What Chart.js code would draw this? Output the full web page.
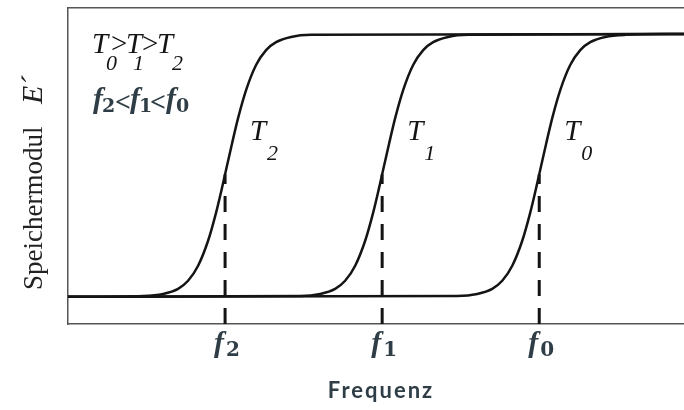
<!DOCTYPE html>
<html>
<head>
<meta charset="utf-8">
<style>
  html, body { margin: 0; padding: 0; background: #fff; }
  #wrap { width: 684px; height: 410px; }
</style>
<script src="https://cdn.jsdelivr.net/npm/chart.js@4.4.1/dist/chart.umd.min.js"></script>
</head>
<body>
<div id="wrap"><canvas id="chart" width="684" height="410"></canvas></div>
<script>
/* ---------- data (arbitrary units: frequency 0..100, E' 0..9) ---------- */
const freqLabels = ["2", "1", "0"];          // f2, f1, f0
const freqValues = [25.5, 51, 76.5];          // crossover frequencies
const tempLabels = ["2", "1", "0"];          // curve names T2, T1, T0
const crossY = 4.2;                           // E' where the dashed marker meets each curve

// shared E' samples for every step (glassy plateau at 9, rubbery at 0)
const stepY = [0, 0.03, 0.10, 0.275, 0.55, 1.065, 1.92, 2.885, 3.74, 4.2,
               5.26, 6.12, 7.08, 7.94, 8.45, 8.72, 8.9, 8.97, 9.0];

const curveT2X = [0, 12.19, 15.44, 17.87, 19.49, 21.12, 22.74, 24.04, 25.01, 25.5,
                  26.64, 27.61, 28.91, 30.53, 32.16, 33.78, 36.21, 39.46, 100];
const curveT1X = [0, 37.69, 40.94, 43.37, 44.99, 46.62, 48.24, 49.54, 50.51, 51,
                  52.14, 53.11, 54.41, 56.03, 57.66, 59.28, 61.71, 64.96, 100];
const curveT0X = [0, 63.19, 66.44, 68.87, 70.49, 72.12, 73.74, 75.04, 76.01, 76.5,
                  77.64, 78.61, 79.91, 81.53, 83.16, 84.78, 87.21, 90.46, 100];

const INK = "#141414";
const SLATE = "#2f3e46";

/* ---------- helpers ---------- */
function curveDataset(xs) {
  return {
    data: xs.map((x, i) => ({ x, y: stepY[i] })),
    showLine: true,
    borderColor: INK,
    borderWidth: 2.5,
    pointRadius: 0,
    cubicInterpolationMode: "monotone",
    fill: false
  };
}

function dashDataset(f) {
  return {
    data: [{ x: f, y: -0.93 }, { x: f, y: crossY }],
    showLine: true,
    borderColor: INK,
    borderWidth: 3,
    borderDash: [16, 12],
    borderCapStyle: "butt",
    pointRadius: 0
  };
}

function txt(ctx, s, x, y, font) {
  ctx.font = font;
  ctx.fillText(s, x, y);
}

/* ---------- text drawn on top of the chart ---------- */
const textPlugin = {
  id: "labels",
  afterDraw(chart) {
    const ctx = chart.ctx;
    const xs = chart.scales.x;
    const area = chart.chartArea;
    ctx.save();
    ctx.textBaseline = "alphabetic";
    ctx.textAlign = "left";

    const tFont = 'italic 29px "Liberation Serif"';
    const tSub = 'italic 22px "Liberation Serif"';
    const gt = '29px "Liberation Serif"';
    const fFont = 'bold italic 30px "Liberation Serif"';
    const fSub = 'bold 19px "DejaVu Serif"';
    const lt = 'bold 28px "Liberation Serif"';

    // T0 > T1 > T2
    ctx.fillStyle = INK;
    txt(ctx, "T", 92, 53, tFont);
    txt(ctx, "0", 106, 70, tSub);
    txt(ctx, ">", 111, 53, gt);
    txt(ctx, "T", 126, 53, tFont);
    txt(ctx, "1", 133, 70, tSub);
    txt(ctx, ">", 142, 53, gt);
    txt(ctx, "T", 157, 53, tFont);
    txt(ctx, "2", 172, 70, tSub);

    // f2 < f1 < f0
    ctx.fillStyle = SLATE;
    txt(ctx, "f", 93, 108, fFont);
    txt(ctx, "2", 102, 112, fSub);
    txt(ctx, "<", 115, 111, lt);
    txt(ctx, "f", 130, 108, fFont);
    txt(ctx, "1", 139, 112, fSub);
    txt(ctx, "<", 150, 111, lt);
    txt(ctx, "f", 166, 108, fFont);
    txt(ctx, "0", 176, 112, fSub);

    // curve names beside each step
    ctx.fillStyle = INK;
    freqValues.forEach((f, i) => {
      const px = xs.getPixelForValue(f);
      txt(ctx, "T", px + 25, 140, tFont);
      txt(ctx, tempLabels[i], px + 42, 160, tSub);
    });

    // frequency tick labels
    ctx.fillStyle = SLATE;
    freqValues.forEach((f, i) => {
      const px = xs.getPixelForValue(f);
      txt(ctx, "f", px - 11, 352, fFont);
      txt(ctx, freqLabels[i], px + 1, 356, 'bold 20px "DejaVu Serif"');
    });

    // x axis title
    ctx.font = 'bold 22px "Lato"';
    ctx.letterSpacing = "2px";
    ctx.textAlign = "center";
    ctx.fillText("Frequenz", (area.left + area.right) / 2 + 5, 398);
    ctx.letterSpacing = "0px";

    // y axis title, rotated
    ctx.fillStyle = "#222";
    ctx.translate(42, 290);
    ctx.rotate(-Math.PI / 2);
    ctx.textAlign = "left";
    txt(ctx, "Speichermodul", 0, 0, '27px "Liberation Serif"');
    txt(ctx, "E´", 186, 0, 'italic 30px "Liberation Serif"');
    ctx.restore();
  }
};

/* ---------- chart ---------- */
new Chart(document.getElementById("chart"), {
  type: "scatter",
  data: {
    datasets: [
      curveDataset(curveT2X),
      curveDataset(curveT1X),
      curveDataset(curveT0X),
      ...freqValues.map(dashDataset)
    ]
  },
  options: {
    responsive: false,
    animation: false,
    layout: { padding: { left: 60, top: 0, right: 0, bottom: 78 } },
    plugins: { legend: { display: false }, tooltip: { enabled: false } },
    scales: {
      x: {
        type: "linear", min: 0, max: 100,
        grid: { display: false },
        ticks: { display: false },
        border: { display: true, color: "#555", width: 1.5 }
      },
      xTop: {
        type: "linear", position: "top", min: 0, max: 100,
        grid: { display: false },
        ticks: { display: false },
        border: { display: true, color: "#555", width: 1.5 }
      },
      y: {
        min: -0.93, max: 9.89,
        grid: { display: false },
        ticks: { display: false },
        border: { display: true, color: "#555", width: 1.5 }
      }
    }
  },
  plugins: [textPlugin]
});
</script>
</body>
</html>
